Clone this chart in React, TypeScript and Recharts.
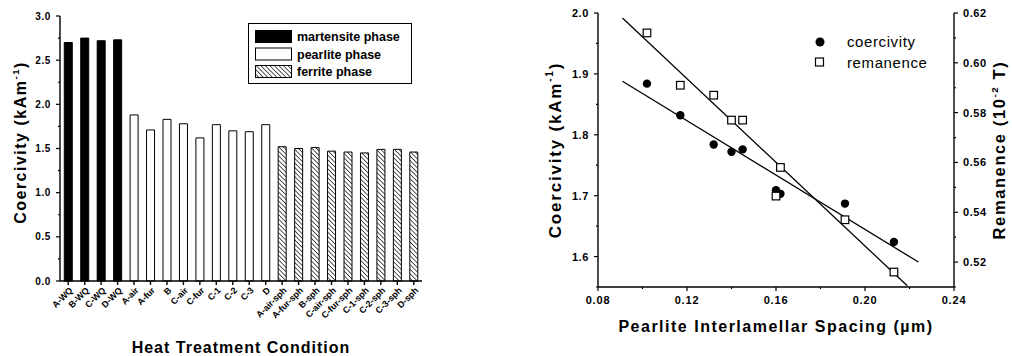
import React from "react";
import {
  BarChart,
  Bar,
  Cell,
  XAxis,
  YAxis,
  Legend,
  ComposedChart,
  Scatter,
  ReferenceLine,
} from "recharts";

// ---- left panel: coercivity per heat treatment ----
const conditions = [
  "A-WQ", "B-WQ", "C-WQ", "D-WQ",
  "A-air", "A-fur", "B", "C-air", "C-fur", "C-1", "C-2", "C-3", "D",
  "A-air-sph", "A-fur-sph", "B-sph", "C-air-sph", "C-fur-sph", "C-1-sph", "C-2-sph", "C-3-sph", "D-sph",
];
const conditionCoercivity = [
  2.70, 2.75, 2.72, 2.73,
  1.88, 1.71, 1.83, 1.78, 1.62, 1.77, 1.70, 1.69, 1.77,
  1.52, 1.50, 1.51, 1.47, 1.46, 1.45, 1.49, 1.49, 1.46,
];
const conditionPhase = [
  "martensite", "martensite", "martensite", "martensite",
  "pearlite", "pearlite", "pearlite", "pearlite", "pearlite", "pearlite", "pearlite", "pearlite", "pearlite",
  "ferrite", "ferrite", "ferrite", "ferrite", "ferrite", "ferrite", "ferrite", "ferrite", "ferrite",
];
const phaseLabels = ["martensite phase", "pearlite phase", "ferrite phase"];
const phaseKeys = ["martensite", "pearlite", "ferrite"];
const barTicks = [0, 0.25, 0.5, 0.75, 1, 1.25, 1.5, 1.75, 2, 2.25, 2.5, 2.75, 3];
const barMajorTicks = [0, 0.5, 1, 1.5, 2, 2.5, 3];

// ---- right panel: vs pearlite interlamellar spacing ----
const spacing = [0.102, 0.117, 0.132, 0.140, 0.145, 0.160, 0.162, 0.191, 0.213];
const coercivity = [1.884, 1.832, 1.784, 1.772, 1.776, 1.709, 1.703, 1.687, 1.624];
const remanence = [0.612, 0.591, 0.587, 0.577, 0.577, 0.5465, 0.558, 0.537, 0.516];
const coercivityFitX = [0.091, 0.224];
const coercivityFitY = [1.888, 1.591];
const remanenceFitX = [0.091, 0.219];
const remanenceFitY = [0.618, 0.5105];
const spacingTicks = [0.08, 0.10, 0.12, 0.14, 0.16, 0.18, 0.20, 0.22, 0.24];
const spacingMajor = [0.08, 0.12, 0.16, 0.20, 0.24];
const coercTicks = [1.55, 1.6, 1.65, 1.7, 1.75, 1.8, 1.85, 1.9, 1.95, 2.0];
const coercMajor = [1.6, 1.7, 1.8, 1.9, 2.0];
const remTicks = [0.51, 0.52, 0.53, 0.54, 0.55, 0.56, 0.57, 0.58, 0.59, 0.60, 0.61, 0.62];
const remMajor = [0.52, 0.54, 0.56, 0.58, 0.60, 0.62];

const FONT = "'Liberation Sans', Arial, sans-serif";
const TS = 4; // tick size
const TM = 5; // tick margin

const barData = conditions.map((name, i) => ({
  name,
  value: conditionCoercivity[i],
  phase: conditionPhase[i],
}));
const coercData = spacing.map((x, i) => ({ x, y: coercivity[i] }));
const remData = spacing.map((x, i) => ({ x, y: remanence[i] }));

const isMajor = (list: number[], v: number) => list.some((m) => Math.abs(m - v) < 1e-9);

const phaseFill = (phase: string) =>
  phase === "martensite" ? "#000" : phase === "pearlite" ? "#fff" : "url(#hatch)";

// y ticks with short minor marks
function yTick(side: "left" | "right", majors: number[], digits: number, size: number) {
  return (p: any) => {
    const v = p.payload.value;
    const major = isMajor(majors, v);
    const dir = side === "left" ? 1 : -1;
    const edge = p.x + dir * (TM + TS);
    const len = major ? TS : 2;
    return (
      <g>
        <line x1={edge} x2={edge - dir * len} y1={p.y} y2={p.y} stroke="#000" strokeWidth={1.2} />
        {major && (
          <text
            x={p.x}
            y={p.y}
            dy="0.36em"
            textAnchor={side === "left" ? "end" : "start"}
            fontSize={size}
            fontWeight="bold"
            letterSpacing={0.6}
            fontFamily={FONT}
            fill="#000"
          >
            {v.toFixed(digits)}
          </text>
        )}
      </g>
    );
  };
}

function xNumTick(p: any) {
  const v = p.payload.value;
  const major = isMajor(spacingMajor, v);
  const edge = p.y - TM - TS;
  return (
    <g>
      <line x1={p.x} x2={p.x} y1={edge} y2={edge + (major ? TS : 2)} stroke="#000" strokeWidth={1.2} />
      {major && (
        <text x={p.x} y={p.y} dy="0.75em" textAnchor="middle" fontSize={11} fontWeight="bold"
          letterSpacing={0.8} fontFamily={FONT} fill="#000">
          {v.toFixed(2)}
        </text>
      )}
    </g>
  );
}

function catTick(p: any) {
  return (
    <g transform={`translate(${p.x + 5},${p.y + 4})`}>
      <text transform="rotate(-45)" textAnchor="end" fontSize={9} fontWeight="bold"
        fontFamily={FONT} fill="#000" letterSpacing={-0.1}>
        {p.payload.value}
      </text>
    </g>
  );
}

function vTitle(main: string, sup: string, tail: string, dx: number, dy: number, size: number, ls: number) {
  return (p: any) => {
    const vb = p.viewBox;
    const cx = vb.x + dx;
    const cy = vb.y + vb.height / 2 + dy;
    return (
      <text x={cx} y={cy} transform={`rotate(-90 ${cx} ${cy})`} textAnchor="middle"
        fontSize={size} fontWeight="bold" fontFamily={FONT} fill="#000" letterSpacing={ls}>
        {main}
        <tspan dy={-size * 0.45} fontSize={size * 0.6}>{sup}</tspan>
        <tspan dy={size * 0.45}>{tail}</tspan>
      </text>
    );
  };
}

function hTitle(text: string, dy: number, size: number, ls: number) {
  return (p: any) => {
    const vb = p.viewBox;
    return (
      <text x={vb.x + vb.width / 2} y={vb.y + dy} textAnchor="middle" fontSize={size}
        fontWeight="bold" fontFamily={FONT} fill="#000" letterSpacing={ls}>
        {text}
      </text>
    );
  };
}

function PhaseLegend() {
  return (
    <div style={{ border: "1.2px solid #000", width: 164, height: 61, boxSizing: "border-box",
      padding: "6px 0 0 6px", background: "#fff" }}>
      <svg width={156} height={50} style={{ display: "block" }}>
        {phaseLabels.map((label, i) => (
          <g key={label} transform={`translate(0,${i * 17.5})`}>
            <rect x={0.5} y={0.5} width={36} height={12} fill={phaseFill(phaseKeys[i])}
              stroke="#000" strokeWidth={1} />
            <text x={42} y={11} fontSize={12.5} fontWeight="bold" fontFamily={FONT} fill="#000">
              {label}
            </text>
          </g>
        ))}
      </svg>
    </div>
  );
}

function MarkerLegend() {
  return (
    <svg width={130} height={45} style={{ display: "block" }}>
      <circle cx={8} cy={9} r={4.5} fill="#000" />
      <text x={35} y={14} fontSize={15} fontFamily={FONT} fill="#000" letterSpacing={0.6}>coercivity</text>
      <rect x={3.5} y={25} width={8} height={8} fill="#fff" stroke="#000" strokeWidth={1.2} />
      <text x={35} y={35} fontSize={15} fontFamily={FONT} fill="#000" letterSpacing={0.6}>remanence</text>
    </svg>
  );
}

const dot = (p: any) => <circle cx={p.cx} cy={p.cy} r={4.2} fill="#000" />;
const square = (p: any) => (
  <rect x={p.cx - 3.8} y={p.cy - 3.8} width={7.6} height={7.6} fill="#fff" stroke="#000" strokeWidth={1.2} />
);

export default function App() {
  return (
    <div style={{ position: "absolute", left: 0, top: 0, width: 1012, height: 356, background: "#fff" }}>
      <div style={{ position: "absolute", left: 0, top: 0 }}>
        <BarChart width={432} height={356} data={barData} barCategoryGap="26%"
          margin={{ top: 16, right: 10, bottom: 0, left: 0 }}>
          <defs>
            <pattern id="hatch" width={3.2} height={3.2} patternUnits="userSpaceOnUse"
              patternTransform="rotate(-45)">
              <rect width={3.2} height={3.2} fill="#fff" />
              <line x1={0} y1={0} x2={0} y2={3.2} stroke="#000" strokeWidth={1.3} />
            </pattern>
          </defs>
          <XAxis dataKey="name" interval={0} height={75} tickSize={TS} tickMargin={2}
            stroke="#000" strokeWidth={1.4} tick={catTick}
            label={hTitle("Heat Treatment Condition", 72, 16, 1.0)} />
          <XAxis xAxisId="top" dataKey="name" orientation="top" height={0} tick={false}
            tickLine={false} stroke="#000" strokeWidth={1.4} />
          <YAxis type="number" domain={[0, 3]} ticks={barTicks} interval={0} width={60}
            tickLine={false} tickSize={TS} tickMargin={TM} stroke="#000" strokeWidth={1.4}
            tick={yTick("left", barMajorTicks, 1, 10)}
            label={vTitle("Coercivity (kAm", "-1", ")", 26, -6, 16, 1.5)} />
          <YAxis yAxisId="right" orientation="right" type="number" domain={[0, 3]} width={0}
            tick={false} tickLine={false} stroke="#000" strokeWidth={1.4} />
          <Legend content={<PhaseLegend />} layout="vertical" align="center" verticalAlign="middle"
            wrapperStyle={{ left: 248, top: 23, width: 164 }} />
          <Bar dataKey="value" stroke="#000" strokeWidth={1} isAnimationActive={false}>
            {barData.map((d) => (
              <Cell key={d.name} fill={phaseFill(d.phase)} />
            ))}
          </Bar>
        </BarChart>
      </div>

      <div style={{ position: "absolute", left: 520, top: 0 }}>
        <ComposedChart width={492} height={356} margin={{ top: 13, right: 8, bottom: 0, left: 0 }}>
          <XAxis dataKey="x" type="number" domain={[0.08, 0.24]} ticks={spacingTicks} interval={0}
            height={69} tickLine={false} tickSize={TS} tickMargin={TM} stroke="#000" strokeWidth={1.4}
            tick={xNumTick} allowDataOverflow
            label={hTitle("Pearlite Interlamellar Spacing (\u00b5m)", 45, 16, 1.5)} />
          <XAxis xAxisId="top" dataKey="x" type="number" domain={[0.08, 0.24]} orientation="top"
            height={0} tick={false} tickLine={false} stroke="#000" strokeWidth={1.4} />
          <YAxis yAxisId="c" dataKey="y" type="number" domain={[1.55, 2.0]} ticks={coercTicks}
            interval={0} width={78} tickLine={false} tickSize={TS} tickMargin={TM} stroke="#000"
            strokeWidth={1.4} tick={yTick("left", coercMajor, 1, 11)} allowDataOverflow
            label={vTitle("Coercivity (kAm", "-1", ")", 41, 0, 17, 1.8)} />
          <YAxis yAxisId="r" dataKey="y" orientation="right" type="number" domain={[0.51, 0.62]}
            ticks={remTicks} interval={0} width={50} tickLine={false} tickSize={TS} tickMargin={TM}
            stroke="#000" strokeWidth={1.4} tick={yTick("right", remMajor, 2, 11)} allowDataOverflow
            label={vTitle("Remanence (10", "-2", " T)", 51, 0, 16.5, 1.6)} />
          <ReferenceLine yAxisId="c" ifOverflow="visible" stroke="#000" strokeWidth={1.3}
            segment={[{ x: coercivityFitX[0], y: coercivityFitY[0] }, { x: coercivityFitX[1], y: coercivityFitY[1] }]} />
          <ReferenceLine yAxisId="r" ifOverflow="visible" stroke="#000" strokeWidth={1.3}
            segment={[{ x: remanenceFitX[0], y: remanenceFitY[0] }, { x: remanenceFitX[1], y: remanenceFitY[1] }]} />
          <Scatter yAxisId="c" data={coercData} shape={dot} isAnimationActive={false} />
          <Scatter yAxisId="r" data={remData} shape={square} isAnimationActive={false} />
          <Legend content={<MarkerLegend />} layout="vertical" align="center" verticalAlign="middle"
            wrapperStyle={{ left: 292, top: 33, width: 130 }} />
        </ComposedChart>
      </div>
    </div>
  );
}
